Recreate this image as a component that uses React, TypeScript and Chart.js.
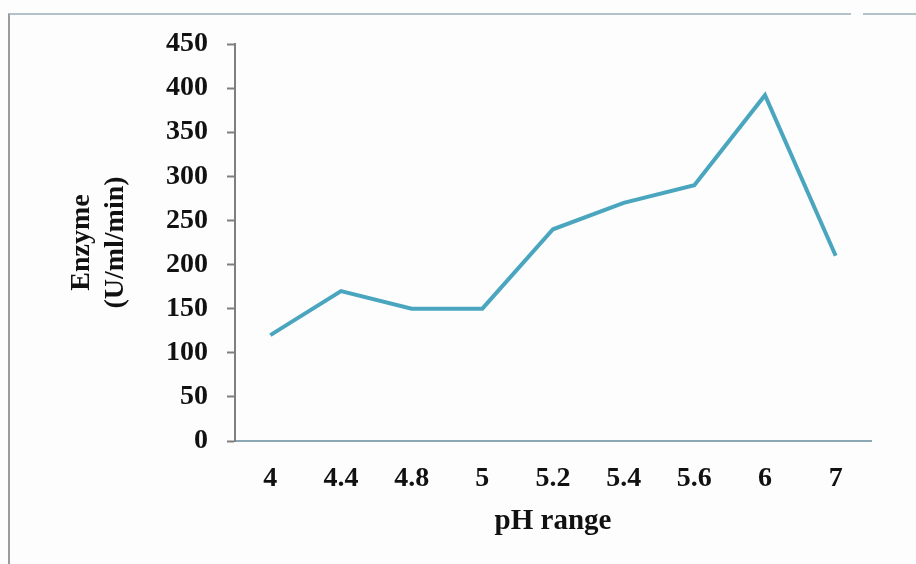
import React, { useEffect, useRef } from "react";
import { Chart, registerables } from "chart.js";

Chart.register(...registerables);

// pH levels tested and the enzyme activity measured at each one
const phLevels = ["4", "4.4", "4.8", "5", "5.2", "5.4", "5.6", "6", "7"];
const enzymeActivity = [120, 170, 150, 150, 240, 270, 290, 392, 210];
const yTicks = [0, 50, 100, 150, 200, 250, 300, 350, 400, 450];

const FONT = "'Liberation Serif', 'Times New Roman', serif";

export default function App() {
  const canvasRef = useRef<HTMLCanvasElement | null>(null);

  useEffect(() => {
    const canvas = canvasRef.current;
    if (!canvas) return;
    const chart = new Chart(canvas, {
      type: "line",
      data: {
        labels: phLevels,
        datasets: [
          {
            data: enzymeActivity,
            borderColor: "#4aa6bf",
            borderWidth: 4,
            pointRadius: 0,
            tension: 0,
            fill: false,
          },
        ],
      },
      options: {
        animation: false,
        responsive: false,
        maintainAspectRatio: false,
        layout: { padding: { left: 0, top: 44, right: 45, bottom: 13 } },
        plugins: { legend: { display: false }, tooltip: { enabled: false } },
        scales: {
          x: {
            offset: true,
            grid: { display: false, drawTicks: false },
            border: { display: true, color: "#8aa9b5", width: 2 },
            ticks: {
              color: "#111",
              padding: 21,
              font: { family: FONT, size: 28, weight: "bold" },
              maxRotation: 0,
            },
            title: {
              display: true,
              text: "pH range",
              color: "#111",
              font: { family: FONT, size: 29, weight: "bold", lineHeight: 1.2 },
              padding: { top: 0, bottom: 12 },
            },
            afterFit: (scale: any) => {
              scale.height = 110;
            },
          },
          y: {
            min: 0,
            max: 450,
            afterBuildTicks: (scale: any) => {
              scale.ticks = yTicks.map((v) => ({ value: v }));
            },
            grid: {
              drawOnChartArea: false,
              drawTicks: true,
              tickLength: 8,
              tickColor: "#7f7f7f",
              tickWidth: 2,
            },
            border: { display: true, color: "#7f7f7f", width: 2 },
            ticks: {
              color: "#111",
              padding: 19,
              font: { family: FONT, size: 28, weight: "bold" },
            },
            title: {
              display: true,
              text: ["Enzyme", "(U/ml/min)"],
              color: "#111",
              font: { family: FONT, size: 28, weight: "bold", lineHeight: 1.2 },
              padding: { top: 65, bottom: 0 },
            },
            afterFit: (scale: any) => {
              scale.width = 235;
            },
          },
        },
      },
    });
    return () => chart.destroy();
  }, []);

  return (
    <div
      style={{
        position: "fixed",
        left: 0,
        top: 0,
        width: 916,
        height: 564,
        background: "#fdfdfd",
        overflow: "hidden",
      }}
    >
      <div
        style={{
          position: "absolute",
          left: 8,
          top: 13,
          right: 0,
          bottom: 0,
          borderLeft: "2px solid #9b9b9b",
          borderTop: "2px solid #b2c2c8",
        }}
      />
      <div
        style={{
          position: "absolute",
          left: 851,
          top: 10,
          width: 12,
          height: 8,
          background: "#fdfdfd",
        }}
      />
      <canvas
        ref={canvasRef}
        width={916}
        height={564}
        style={{ position: "absolute", left: 0, top: 0, width: 916, height: 564 }}
      />
    </div>
  );
}
